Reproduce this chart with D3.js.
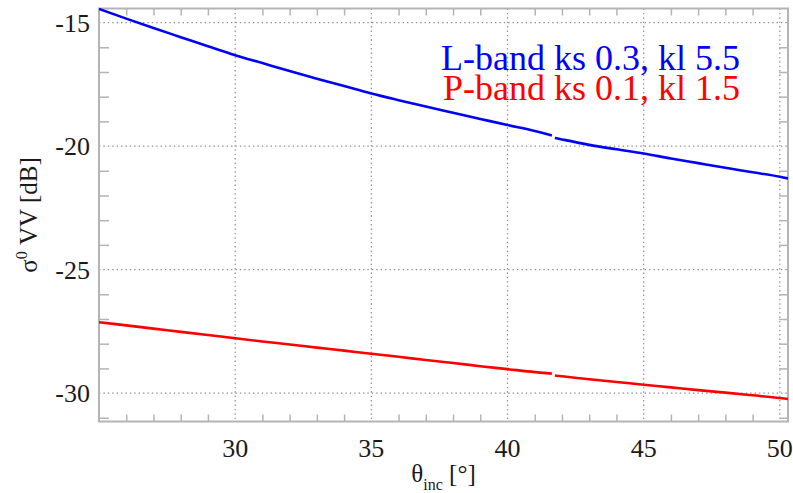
<!DOCTYPE html>
<html>
<head>
<meta charset="utf-8">
<script src="https://cdn.jsdelivr.net/npm/d3@7"></script>
<style>
  html, body { margin: 0; padding: 0; background: #fff; }
  svg { display: block; font-family: "Liberation Serif", "DejaVu Serif", serif; }
</style>
</head>
<body>
<svg id="chart" width="793" height="493"></svg>
<script>
// Incidence angle (deg) and backscatter sigma0 VV (dB); each band is stored in two pieces
const lBandAngle1 = [25, 26, 27, 28, 29, 30, 31, 32, 33, 34, 35, 36, 37, 38, 39, 40, 41, 41.63];
const lBandSigma1 = [-14.45, -14.84, -15.22, -15.59, -15.96, -16.32, -16.64, -16.96, -17.27, -17.57,
                     -17.87, -18.14, -18.40, -18.65, -18.90, -19.15, -19.39, -19.57];
const lBandAngle2 = [41.74, 42, 43, 44, 45, 46, 47, 48, 49, 50, 50.3];
const lBandSigma2 = [-19.67, -19.73, -19.95, -20.13, -20.30, -20.50, -20.69, -20.88, -21.06, -21.24, -21.31];

const pBandAngle1 = [25, 26, 27, 28, 29, 30, 31, 32, 33, 34, 35, 36, 37, 38, 39, 40, 41, 41.63];
const pBandSigma1 = [-27.13, -27.26, -27.39, -27.52, -27.65, -27.78, -27.91, -28.03, -28.16, -28.28,
                     -28.41, -28.53, -28.66, -28.78, -28.91, -29.03, -29.15, -29.21];
const pBandAngle2 = [41.74, 42, 43, 44, 45, 46, 47, 48, 49, 50, 50.3];
const pBandSigma2 = [-29.29, -29.32, -29.44, -29.55, -29.66, -29.77, -29.88, -29.98, -30.09, -30.20, -30.24];

const seriesNames = ["L-band ks 0.3, kl 5.5", "P-band ks 0.1, kl 1.5"];
const seriesColors = ["#0000ff", "#ff0000"];

const xMajorTicks = [30, 35, 40, 45, 50];
const xTickLabels = ["30", "35", "40", "45", "50"];
const yMajorTicks = [-30, -25, -20, -15];
const yTickLabels = ["-30", "-25", "-20", "-15"];
const xMinorTicks = d3.range(26, 51).filter(v => v % 5 !== 0);
const yMinorTicks = d3.range(-31, -14).filter(v => v % 5 !== 0);

const svg = d3.select("#chart");
const margin = { left: 99, right: 5, top: 8.5, bottom: 71.5 };
const W = 793, H = 493;
const x0 = margin.left, x1 = W - margin.right, y0 = margin.top, y1 = H - margin.bottom;

const x = d3.scaleLinear().domain([25, 50.3]).range([x0, x1]);
const y = d3.scaleLinear().domain([-31.15, -14.43]).range([y1, y0]);

const frameColor = "#b4b4b4";
const gridColor = "#8f8f8f";

// dotted grid at the major ticks
const grid = svg.append("g");
grid.selectAll("line.gx").data(xMajorTicks).join("line")
  .attr("x1", d => x(d)).attr("x2", d => x(d)).attr("y1", y0).attr("y2", y1)
  .attr("stroke", gridColor).attr("stroke-width", 1.2).attr("stroke-dasharray", "1.4,3");
grid.selectAll("line.gy").data(yMajorTicks).join("line")
  .attr("y1", d => y(d)).attr("y2", d => y(d)).attr("x1", x0).attr("x2", x1)
  .attr("stroke", gridColor).attr("stroke-width", 1.2).attr("stroke-dasharray", "1.4,3");

// inward minor ticks on all four sides
function styleAxis(g) {
  g.select(".domain").remove();
  g.selectAll(".tick line").attr("stroke", frameColor).attr("stroke-width", 1.5);
  g.selectAll(".tick text").remove();
}
svg.append("g").attr("transform", `translate(0,${y1})`)
  .call(d3.axisBottom(x).tickValues(xMinorTicks).tickSize(-7).tickFormat("")).call(styleAxis);
svg.append("g").attr("transform", `translate(0,${y0})`)
  .call(d3.axisTop(x).tickValues(xMinorTicks).tickSize(-7).tickFormat("")).call(styleAxis);
svg.append("g").attr("transform", `translate(${x0},0)`)
  .call(d3.axisLeft(y).tickValues(yMinorTicks).tickSize(-10).tickFormat("")).call(styleAxis);
svg.append("g").attr("transform", `translate(${x1},0)`)
  .call(d3.axisRight(y).tickValues(yMinorTicks).tickSize(-9).tickFormat("")).call(styleAxis);

// frame
svg.append("rect").attr("x", x0).attr("y", y0).attr("width", x1 - x0).attr("height", y1 - y0)
  .attr("fill", "none").attr("stroke", frameColor).attr("stroke-width", 2);

// tick labels
svg.append("g").selectAll("text").data(xMajorTicks).join("text")
  .attr("x", d => x(d)).attr("y", 457).attr("text-anchor", "middle")
  .attr("font-size", 26).attr("fill", "#1a1a1a")
  .text((d, i) => xTickLabels[i]);
svg.append("g").selectAll("text").data(yMajorTicks).join("text")
  .attr("x", 90).attr("y", d => y(d) + 9).attr("text-anchor", "end")
  .attr("font-size", 26).attr("fill", "#1a1a1a")
  .text((d, i) => yTickLabels[i]);

// curves
const line = d3.line().x(d => x(d[0])).y(d => y(d[1])).curve(d3.curveMonotoneX);
const pieces = [
  [lBandAngle1, lBandSigma1, 0], [lBandAngle2, lBandSigma2, 0],
  [pBandAngle1, pBandSigma1, 1], [pBandAngle2, pBandSigma2, 1]
];
const clip = svg.append("clipPath").attr("id", "plotclip");
clip.append("rect").attr("x", x0).attr("y", y0 - 2).attr("width", x1 - x0).attr("height", y1 - y0 + 2);
const curves = svg.append("g").attr("clip-path", "url(#plotclip)");
pieces.forEach(([xs, ys, s]) => {
  curves.append("path")
    .datum(xs.map((v, i) => [v, ys[i]]))
    .attr("d", line)
    .attr("fill", "none").attr("stroke", seriesColors[s]).attr("stroke-width", 2.6);
});

// legend text, two tightly stacked lines
const legend = svg.append("text").attr("x", 740).attr("text-anchor", "end").attr("font-size", 36);
legend.selectAll("tspan").data(seriesNames).join("tspan")
  .attr("x", 740).attr("y", (d, i) => 69.5 + i * 30.7)
  .attr("fill", (d, i) => seriesColors[i])
  .text(d => d);

// axis titles
const xt = svg.append("text").attr("x", (x0 + x1) / 2).attr("y", 482)
  .attr("text-anchor", "middle").attr("font-size", 25).attr("fill", "#1a1a1a");
xt.append("tspan").text("θ");
xt.append("tspan").attr("font-size", 16).attr("dy", 8).text("inc");
xt.append("tspan").attr("dy", -8).text(" [°]");

const yt = svg.append("text")
  .attr("transform", `translate(37,${(y0 + y1) / 2}) rotate(-90)`)
  .attr("text-anchor", "middle").attr("font-size", 25).attr("fill", "#1a1a1a");
yt.append("tspan").text("σ");
yt.append("tspan").attr("font-size", 16).attr("dy", -10).text("0");
yt.append("tspan").attr("dy", 10).text(" VV [dB]");
</script>
</body>
</html>
